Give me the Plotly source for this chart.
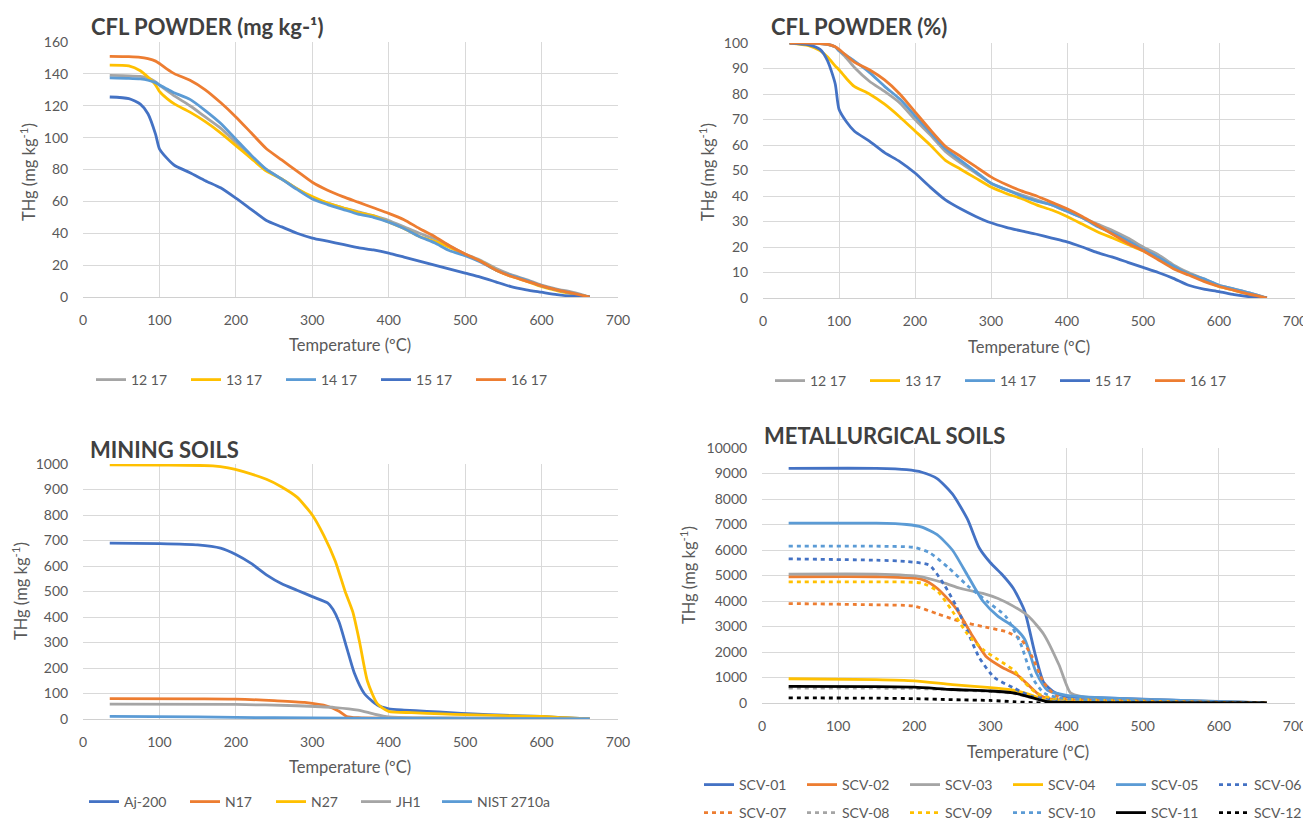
import plotly.graph_objects as go

# ---------------- DATA ----------------
# Panel 1: CFL powder (mg kg-1)
t_cfl = [35, 60, 75, 85, 95, 100, 110, 120, 140, 160, 180, 200, 220, 240, 260, 280, 300, 320, 340, 360,
         380, 400, 420, 440, 460, 480, 500, 520, 540, 560, 580, 600, 620, 640, 663]
cfl_12 = [139, 138.8, 138.4, 137.5, 135, 133, 129.5, 126, 120, 113, 106, 97, 88, 80, 74, 68, 62, 59, 56, 53.5,
          51, 48, 44, 40, 36.5, 32, 27, 23, 18, 14, 11, 7.5, 5, 3, 0]
cfl_13 = [145.5, 145, 142, 138, 133, 129, 124.5, 121, 116, 110, 103, 95, 87, 79, 74, 68, 63, 59, 56, 53,
          51, 47, 43, 38, 35, 31, 26.5, 22.5, 17, 13, 10, 6.5, 4, 2, 0]
cfl_14 = [137.5, 137.2, 136.8, 136, 134.5, 133, 130.5, 128, 124, 117, 109, 99, 89, 80, 74, 67.5, 61.5, 58, 55, 52,
          50, 47, 43, 38, 34, 29, 26, 22, 17, 13.5, 10.5, 7, 4.5, 2.5, 0]
cfl_15 = [125.5, 124.5, 121, 115, 102, 93, 87, 82.5, 78, 73, 68.5, 62, 55, 48, 44, 40, 37, 35, 33, 31,
          29.5, 27.5, 25, 22.5, 20, 17.5, 15, 12.5, 9.5, 6.5, 4.5, 3, 1.5, 0.5, 0]
cfl_16 = [151, 150.8, 150.4, 149.5, 148, 146.5, 143, 140, 136, 130, 122, 113, 103, 93, 86, 79, 72, 67, 63, 59.5,
          56, 52.5, 48.5, 43, 38, 32, 27, 22.5, 17, 13, 10, 7, 4.5, 2.5, 0]

# Panel 2: CFL powder (%)
pct_12 = [100, 100, 99.8, 99.5, 98.5, 97, 94, 90.5, 85, 81, 76.5, 70, 64, 57.5, 53, 49, 45, 42.5, 40.5, 38.5,
          36.5, 34, 31.5, 29, 26.5, 23.5, 20, 17, 13, 10, 7.5, 5, 3.5, 2, 0]
pct_13 = [100, 99, 97, 94.5, 91, 89.5, 86, 83, 80, 76, 71, 65.5, 60, 54, 50.5, 47, 43.5, 41, 39, 36.5,
          34.5, 32, 29, 26, 23.5, 21, 18.5, 15.5, 12, 9.5, 7, 4.5, 3, 1.5, 0]
pct_14 = [100, 100, 99.8, 99.5, 98.5, 97, 95, 93, 88.5, 83, 78, 71.5, 65, 58.5, 54, 49.5, 45, 42.5, 40, 38,
          36.5, 34, 31.5, 28, 25.5, 22.5, 19, 16, 12.5, 9.5, 7.5, 5, 3.5, 2, 0]
pct_15 = [100, 99.3, 97.5, 93, 84, 74, 69, 65.5, 61.5, 57, 53.5, 49, 43.5, 38.5, 35, 32, 29.5, 27.7, 26.3, 25,
          23.5, 22, 20, 17.8, 16, 14, 12, 10, 7.7, 5, 3.5, 2.5, 1.3, 0.5, 0]
pct_16 = [100, 100, 99.8, 99.5, 98.5, 97.5, 95, 92.5, 89.5, 85.5, 80, 73, 66, 59.5, 55.5, 51.5, 47.5, 44.5, 42, 40,
          37.5, 35, 32, 28.5, 25, 21.5, 18.5, 15, 11.5, 9, 6.5, 4.5, 3, 1.5, 0]

# Panel 3: mining soils
t_min = [35, 100, 150, 180, 200, 220, 240, 260, 280, 300, 320, 327, 335, 345, 355, 368, 385, 400, 420,
         450, 480, 510, 550, 600, 630, 663]
aj200 = [690, 688, 683, 670, 645, 610, 565, 530, 505, 480, 455, 430, 380, 280, 180, 100, 55, 40, 35,
         30, 25, 20, 15, 10, 5, 0]
t_n27 = [35, 100, 170, 190, 210, 240, 260, 280, 300, 315, 330, 343, 353, 362, 372, 385, 400, 430, 470,
         500, 550, 600, 630, 663]
n27 = [997, 996, 993, 985, 970, 940, 910, 870, 800, 720, 620, 500, 420, 300, 150, 60, 30, 25, 20,
       17, 13, 10, 5, 0]
t_n17 = [35, 150, 200, 250, 290, 320, 335, 345, 360, 400, 500, 663]
n17 = [80, 79, 78, 72, 65, 50, 30, 10, 5, 3, 2, 0]
t_jh1 = [35, 200, 280, 330, 360, 380, 400, 450, 550, 663]
jh1 = [58, 57, 52, 45, 35, 20, 8, 5, 3, 0]
t_nist = [35, 150, 250, 350, 450, 550, 663]
nist = [10, 8, 5, 3, 2, 1, 0]

# Panel 4: metallurgical soils
t_met = [35, 150, 190, 210, 230, 250, 270, 285, 300, 315, 330, 345, 358, 370, 385, 400, 450, 550, 600, 663]
scv01 = [9200, 9200, 9150, 9050, 8800, 8200, 7200, 6100, 5500, 5050, 4500, 3600, 2000, 800, 400, 250, 200, 100, 50, 0]
t_05 = [35, 150, 190, 210, 230, 250, 270, 290, 310, 330, 345, 360, 375, 400, 450, 550, 663]
scv05 = [7050, 7050, 7000, 6900, 6600, 6000, 5000, 4000, 3400, 3000, 2500, 1200, 500, 300, 200, 100, 0]
t_03 = [35, 150, 210, 240, 260, 290, 310, 330, 350, 370, 390, 405, 420, 450, 550, 620, 663]
scv03 = [5050, 5050, 4950, 4700, 4500, 4300, 4100, 3800, 3400, 2700, 1500, 400, 250, 180, 100, 50, 0]
t_02 = [35, 150, 210, 230, 255, 275, 295, 315, 335, 350, 365, 380, 450, 550, 663]
scv02 = [4950, 4950, 4850, 4500, 3700, 2700, 1800, 1400, 1100, 700, 300, 150, 100, 50, 0]
t_06 = [35, 150, 190, 220, 240, 255, 270, 285, 305, 330, 355, 380, 450, 663]
scv06 = [5650, 5600, 5550, 5400, 4600, 3800, 2800, 1800, 1000, 600, 250, 150, 100, 0]
t_10 = [35, 150, 200, 220, 245, 270, 295, 320, 340, 355, 370, 390, 450, 663]
scv10 = [6150, 6150, 6100, 5900, 5300, 4600, 4000, 3400, 2300, 1000, 400, 200, 100, 0]
t_09 = [35, 150, 210, 230, 250, 270, 290, 310, 330, 345, 360, 380, 450, 663]
scv09 = [4750, 4750, 4700, 4400, 3600, 2700, 2100, 1700, 1300, 800, 400, 200, 100, 0]
t_07 = [35, 150, 200, 230, 260, 290, 320, 340, 355, 370, 385, 400, 450, 663]
scv07 = [3900, 3850, 3800, 3500, 3200, 3000, 2800, 2500, 1800, 800, 300, 150, 100, 0]
t_04 = [35, 150, 200, 250, 300, 330, 350, 370, 400, 500, 663]
scv04 = [950, 920, 870, 720, 600, 500, 350, 150, 80, 50, 0]
t_08 = [35, 150, 200, 250, 300, 330, 355, 375, 450, 663]
scv08 = [580, 580, 570, 520, 450, 380, 200, 80, 50, 0]
t_11 = [35, 150, 200, 250, 300, 330, 350, 375, 400, 500, 663]
scv11 = [650, 640, 620, 530, 470, 400, 250, 50, 20, 10, 0]
t_12 = [35, 150, 200, 250, 300, 330, 360, 380, 663]
scv12 = [200, 190, 170, 130, 100, 50, 10, 0, 0]

cfl_names = ["12 17", "13 17", "14 17", "15 17", "16 17"]

# ---------------- STYLE ----------------
BLUE, ORANGE, GRAY, GOLD, LBLUE, BLACK = "#4472C4", "#ED7D31", "#A5A5A5", "#FFC000", "#5B9BD5", "#000000"
FONT = "Lato"
TXT = "#595959"
OFF = 8                      # page body margin of the html page
W, H = 1311 - OFF, 829 - 2 * OFF
LW = 2.8
DOT = "4px,4px"

fig = go.Figure()


def px(x):
    return (x - OFF) / W


def py(y):
    return 1 - (y - OFF) / H


def add(x, y, name, color, xa, ya, legend, dash="solid"):
    fig.add_trace(go.Scatter(x=x, y=y, name=name, mode="lines",
                             line=dict(color=color, width=LW, dash=dash, shape="spline", smoothing=0.6),
                             xaxis=xa, yaxis=ya, legend=legend, hoverinfo="x+y+name"))


cfl_cols = [GRAY, GOLD, LBLUE, BLUE, ORANGE]
for n, c, v in zip(cfl_names, cfl_cols, [cfl_12, cfl_13, cfl_14, cfl_15, cfl_16]):
    add(t_cfl, v, n, c, "x", "y", "legend")
for n, c, v in zip(cfl_names, cfl_cols, [pct_12, pct_13, pct_14, pct_15, pct_16]):
    add(t_cfl, v, n, c, "x2", "y2", "legend2")

add(t_min, aj200, "Aj-200", BLUE, "x3", "y3", "legend3")
add(t_n17, n17, "N17", ORANGE, "x3", "y3", "legend6")
add(t_n27, n27, "N27", GOLD, "x3", "y3", "legend7")
add(t_jh1, jh1, "JH1", GRAY, "x3", "y3", "legend8")
add(t_nist, nist, "NIST 2710a", LBLUE, "x3", "y3", "legend9")

met = [
    ("SCV-01", t_met, scv01, BLUE, "solid", "legend4"),
    ("SCV-02", t_02, scv02, ORANGE, "solid", "legend4"),
    ("SCV-03", t_03, scv03, GRAY, "solid", "legend4"),
    ("SCV-04", t_04, scv04, GOLD, "solid", "legend4"),
    ("SCV-05", t_05, scv05, LBLUE, "solid", "legend4"),
    ("SCV-06", t_06, scv06, BLUE, DOT, "legend4"),
    ("SCV-07", t_07, scv07, ORANGE, DOT, "legend5"),
    ("SCV-08", t_08, scv08, GRAY, DOT, "legend5"),
    ("SCV-09", t_09, scv09, GOLD, DOT, "legend5"),
    ("SCV-10", t_10, scv10, LBLUE, DOT, "legend5"),
    ("SCV-11", t_11, scv11, BLACK, "solid", "legend5"),
    ("SCV-12", t_12, scv12, BLACK, DOT, "legend5"),
]
for n, tx, v, c, d, lg in met:
    add(tx, v, n, c, "x4", "y4", lg, dash=d)

# ---------------- AXES ----------------
panels = {
    1: dict(x0=83, x1=618, y0=42, y1=297, ymax=160, dt=20),
    2: dict(x0=763, x1=1295, y0=43, y1=298, ymax=100, dt=10),
    3: dict(x0=83, x1=618, y0=464, y1=719, ymax=1000, dt=100),
    4: dict(x0=762, x1=1295, y0=448, y1=703, ymax=10000, dt=1000),
}
tickfont = dict(family=FONT, size=14, color=TXT)
for i, p in panels.items():
    s = "" if i == 1 else str(i)
    fig.layout["xaxis" + s] = dict(domain=[px(p["x0"]), px(p["x1"])], range=[0, 700], dtick=100,
                                   showgrid=True, gridcolor="#D9D9D9", gridwidth=1, zeroline=False,
                                   showline=True, linecolor="#D0D0D0", linewidth=1, mirror=False,
                                   tickfont=tickfont, anchor="y" + s, fixedrange=True, automargin=False,
                                   ticks="outside", ticklen=10, tickcolor="rgba(0,0,0,0)")
    fig.layout["yaxis" + s] = dict(domain=[py(p["y1"]), py(p["y0"])], range=[0, p["ymax"]], dtick=p["dt"],
                                   showgrid=True, gridcolor="#D9D9D9", gridwidth=1, zeroline=False,
                                   showline=False, tickfont=tickfont, anchor="x" + s, tickformat="d",
                                   fixedrange=True, automargin=False,
                                   ticks="outside", ticklen=11, tickcolor="rgba(0,0,0,0)")

# ---------------- TEXT ----------------
ann = []
titles = [
    ("CFL POWDER (mg kg-¹)", 89, 26),
    ("CFL POWDER (%)", 769, 26),
    ("MINING SOILS", 88, 450),
    ("METALLURGICAL SOILS", 762, 435),
]
for t, x, y in titles:
    ann.append(dict(text="<b>" + t + "</b>", x=px(x), y=py(y), xref="paper", yref="paper",
                    xanchor="left", yanchor="middle", showarrow=False,
                    font=dict(family=FONT, size=22, color="#404040")))
xt = [(350, 345), (1029, 347), (350, 767), (1028, 752)]
for x, y in xt:
    ann.append(dict(text="Temperature (ºC)", x=px(x), y=py(y), xref="paper", yref="paper",
                    xanchor="center", yanchor="middle", showarrow=False,
                    font=dict(family=FONT, size=16.5, color=TXT)))
yt = [(28, 172), (707, 172), (20, 591), (688, 575)]
for x, y in yt:
    ann.append(dict(text="THg (mg kg<sup>-1</sup>)", x=px(x), y=py(y), xref="paper", yref="paper",
                    xanchor="center", yanchor="middle", showarrow=False, textangle=-90,
                    font=dict(family=FONT, size=16.5, color=TXT)))

legfont = dict(family=FONT, size=14, color=TXT)
LOFF = 6   # distance from legend box edge to the start of the legend line


def leg(line_x, y, ew):
    return dict(orientation="h", x=px(line_x - LOFF), y=py(y), xanchor="left", yanchor="middle",
                font=legfont, bgcolor="rgba(0,0,0,0)", itemwidth=30, entrywidth=ew,
                entrywidthmode="pixels", tracegroupgap=0, itemclick=False, itemdoubleclick=False)


fig.update_layout(
    width=W, height=H,
    margin=dict(l=0, r=0, t=0, b=0, autoexpand=False),
    paper_bgcolor="white", plot_bgcolor="white",
    annotations=ann,
    showlegend=True,
    legend=leg(97, 380, 50),
    legend2=leg(776, 381, 50),
    legend3=leg(90, 802, 0),
    legend6=leg(191, 802, 0),
    legend7=leg(277, 802, 0),
    legend8=leg(362, 802, 0),
    legend9=leg(443, 802, 0),
    legend4=leg(705, 785, 58),
    legend5=leg(705, 813, 58),
)

fig.write_html("out.html")
